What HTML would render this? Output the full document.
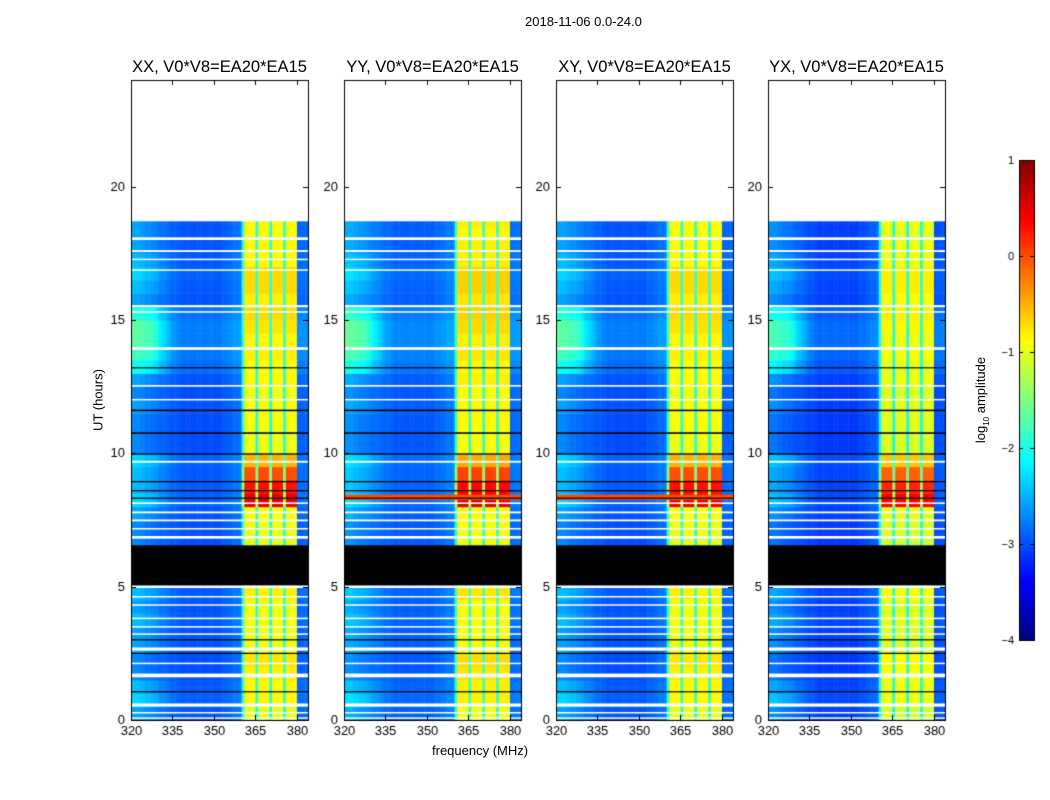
<!DOCTYPE html>
<html><head><meta charset="utf-8"><style>
body{margin:0;background:#fff;width:1050px;height:800px;overflow:hidden;font-family:"Liberation Sans","DejaVu Sans",sans-serif;}
#wrap{position:relative;width:1050px;height:800px;}
.t{position:absolute;white-space:nowrap;color:#000;}
canvas{position:absolute;}
</style></head><body>
<div id="wrap">
<div class="t" style="left:525px;top:14px;font-size:13px;">2018-11-06 0.0-24.0</div>
<div class="t" style="left:432px;top:743px;font-size:13px;">frequency (MHz)</div>
<div class="t" style="left:98px;top:400px;font-size:13px;transform:translate(-50%,-50%) rotate(-90deg);">UT (hours)</div>
<div class="t" style="left:982px;top:400px;font-size:13px;transform:translate(-50%,-50%) rotate(-90deg);">log<sub style="font-size:8px">10</sub> amplitude</div>
<canvas id="cv" width="1050" height="800" style="left:0;top:0"></canvas>
</div>
<script>
const panelTitles=["XX, V0*V8=EA20*EA15","YY, V0*V8=EA20*EA15","XY, V0*V8=EA20*EA15","YX, V0*V8=EA20*EA15"];
const panelLeft=[131,344,556,768];
const freqTicks=[320,335,350,365,380];
const timeTicks=[0,5,10,15,20];
const cbTicks=[1,0,-1,-2,-3,-4];
// column base level (log10 amplitude) for 1 MHz bins 320..383
const colLevel=[-2.7,-2.7,-2.7,-2.75,-2.75,-2.8,-2.8,-2.85,-2.85,-2.85,-2.9,-2.9,-2.9,-2.9,-2.95,-2.95,-2.95,-2.95,-3.0,-3.0,
-3.0,-3.0,-3.0,-3.0,-3.0,-3.0,-3.0,-3.0,-3.0,-3.0,-3.0,-3.0,-3.0,-2.95,-2.95,-2.9,-2.9,-2.85,-2.85,-2.8,
-2.0,-1.0,-1.0,-1.0,-1.0,-2.0,-1.0,-1.0,-1.0,-1.0,-2.0,-1.0,-1.0,-1.0,-1.0,-2.0,-1.0,-1.0,-1.0,-1.0,-2.9,-2.9,-2.9,-2.9];
// band boost per 0.5 h bin, 0..19 h
const rowBand=[0.0,0.15,0.15,0.2,0.25,0.05,0.05,0.1,0.05,0.2,0,0,0,0,0.05,0.1,1.5,1.3,1.0,0.5,0.05,0.05,0.1,0.1,0.05,0.15,0.1,0.2,0.15,0.25,0.3,0.2,0.3,0.3,0.15,0.15,0.1,0.15];
// background boost per 0.5 h bin
const rowBg=[0.1,0.3,0.2,0,0,0.1,0.1,0.2,0.1,0.2,0,0,0,0,0,0.1,0.3,0.2,0.2,0.3,0,0,0,0.1,0,0.1,0.5,0.7,0.8,0.8,0.6,0.1,0.2,0.3,0.2,0.1,0.1,0.1];
// cyan patch weight for low-frequency columns (first 20 bins)
const patchCols=[1,1,1,1,1,1,1,1,0.9,0.8,0.6,0.5,0.4,0.3,0.2,0.1,0.05,0,0,0];
const panelOffset=[0,0.05,0,-0.1];
const fullLine=[0,1,1,0];
const dataEnd=18.7;
const blackBlock=[5.05,6.55];
const whiteGaps=[[18.0,18.1],[17.55,17.62],[17.25,17.3],[16.85,16.9],[15.48,15.56],[15.28,15.33],[13.88,13.98],[12.5,12.56],[12.0,12.04],[9.65,9.72],[8.1,8.16],[7.75,7.82],[7.45,7.52],[7.15,7.2],[6.8,6.9],[4.95,5.05],[4.6,4.65],[4.3,4.34],[3.78,3.84],[3.48,3.52],[3.2,3.25],[2.6,2.72],[2.1,2.15],[1.6,1.74],[0.5,0.62],[0.25,0.3],[0.05,0.1]];
const blackLines=[[11.58,11.64],[10.73,10.79],[9.95,10.0],[8.92,8.96],[8.58,8.62],[8.3,8.34],[13.2,13.23],[3.0,3.03],[2.48,2.52],[1.05,1.08]];

const W=177,H=640,T0=80;
function jet(v){
  let t=(v+4)/5; t=Math.max(0,Math.min(1,t));
  function c(x){return Math.max(0,Math.min(1,x));}
  const r=c(1.5-Math.abs(4*t-3)),g=c(1.5-Math.abs(4*t-2)),b=c(1.5-Math.abs(4*t-1));
  return `rgb(${Math.round(r*255)},${Math.round(g*255)},${Math.round(b*255)})`;
}
const cv=document.getElementById('cv'),ctx=cv.getContext('2d');
function xs(p,f){return panelLeft[p]+(f-320)/64*W;}
function ys(t){return T0+H-t/24*H;}
for(let p=0;p<4;p++){
  ctx.save();ctx.beginPath();ctx.rect(panelLeft[p],T0,W,H);ctx.clip();
  for(let r=0;r<rowBand.length;r++){
    const t0=r*0.5; if(t0>=dataEnd)break;
    const t1=Math.min(t0+0.5,dataEnd);
    for(let c=0;c<colLevel.length;c++){
      const inBand=colLevel[c]>-2.05&&c>=40&&c<60;
      let v=colLevel[c]+panelOffset[p];
      if(inBand) v+=rowBand[r]*(colLevel[c]<-1.5?0.5:1);
      else v+=rowBg[r]*0.3+(c<patchCols.length?patchCols[c]*rowBg[r]:0);
      ctx.fillStyle=jet(v);
      const x0=xs(p,320+c),x1=xs(p,321+c);
      ctx.fillRect(x0,ys(t1),x1-x0+0.5,ys(t0)-ys(t1)+0.5);
    }
  }
  if(fullLine[p]){ctx.fillStyle=jet(0.0);ctx.fillRect(panelLeft[p],ys(8.45),W,ys(8.25)-ys(8.45));}
  ctx.fillStyle='#fff';
  whiteGaps.forEach(g=>ctx.fillRect(panelLeft[p],ys(g[1]),W,Math.max(1.5,ys(g[0])-ys(g[1]))));
  ctx.fillStyle='#000';
  blackLines.forEach(g=>ctx.fillRect(panelLeft[p],ys(g[1]),W,Math.max(1.2,ys(g[0])-ys(g[1]))));
  ctx.fillRect(panelLeft[p],ys(blackBlock[1]),W,ys(blackBlock[0])-ys(blackBlock[1]));
  ctx.restore();
  ctx.strokeStyle='#000';ctx.lineWidth=1;
  ctx.strokeRect(panelLeft[p]+0.5,T0+0.5,W,H);
  ctx.font='13px "Liberation Sans",sans-serif';ctx.fillStyle='#000';
  ctx.textAlign='center';ctx.textBaseline='top';
  freqTicks.forEach(f=>{const x=Math.round(xs(p,f))+0.5;
    ctx.beginPath();ctx.moveTo(x,T0+H);ctx.lineTo(x,T0+H-5);ctx.moveTo(x,T0);ctx.lineTo(x,T0+5);ctx.stroke();
    ctx.fillStyle='#000';ctx.fillText(String(f),x,T0+H+5);});
  ctx.textAlign='right';ctx.textBaseline='middle';
  timeTicks.forEach(t=>{const y=Math.round(ys(t))+0.5;
    ctx.beginPath();ctx.moveTo(panelLeft[p],y);ctx.lineTo(panelLeft[p]+5,y);ctx.moveTo(panelLeft[p]+W,y);ctx.lineTo(panelLeft[p]+W-5,y);ctx.stroke();
    ctx.fillStyle='#000';ctx.fillText(String(t),panelLeft[p]-6,y);});
}
const cbX=1019,cbW=15,cbT=160,cbH=480;
for(let i=0;i<cbH;i++){ctx.fillStyle=jet(1-5*i/cbH);ctx.fillRect(cbX,cbT+i,cbW,1.2);}
ctx.strokeStyle='#000';ctx.strokeRect(cbX+0.5,cbT+0.5,cbW,cbH);
ctx.textAlign='right';ctx.textBaseline='middle';ctx.font='11px "Liberation Sans",sans-serif';
cbTicks.forEach(v=>{const y=Math.round(cbT+(1-v)/5*cbH)+0.5;
  ctx.beginPath();ctx.moveTo(cbX,y);ctx.lineTo(cbX+4,y);ctx.moveTo(cbX+cbW,y);ctx.lineTo(cbX+cbW-4,y);ctx.stroke();
  ctx.fillStyle='#000';ctx.fillText(v<0?'\u2212'+(-v):String(v),cbX-5,y);});
const wrap=document.getElementById('wrap');
panelTitles.forEach((s,i)=>{const d=document.createElement('div');d.className='t';
  d.style.left=(panelLeft[i]+W/2)+'px';d.style.top='58px';d.style.fontSize='16.5px';d.style.transform='translateX(-50%)';
  d.textContent=s;
  
  
  wrap.appendChild(d);});
</script>
</body></html>
